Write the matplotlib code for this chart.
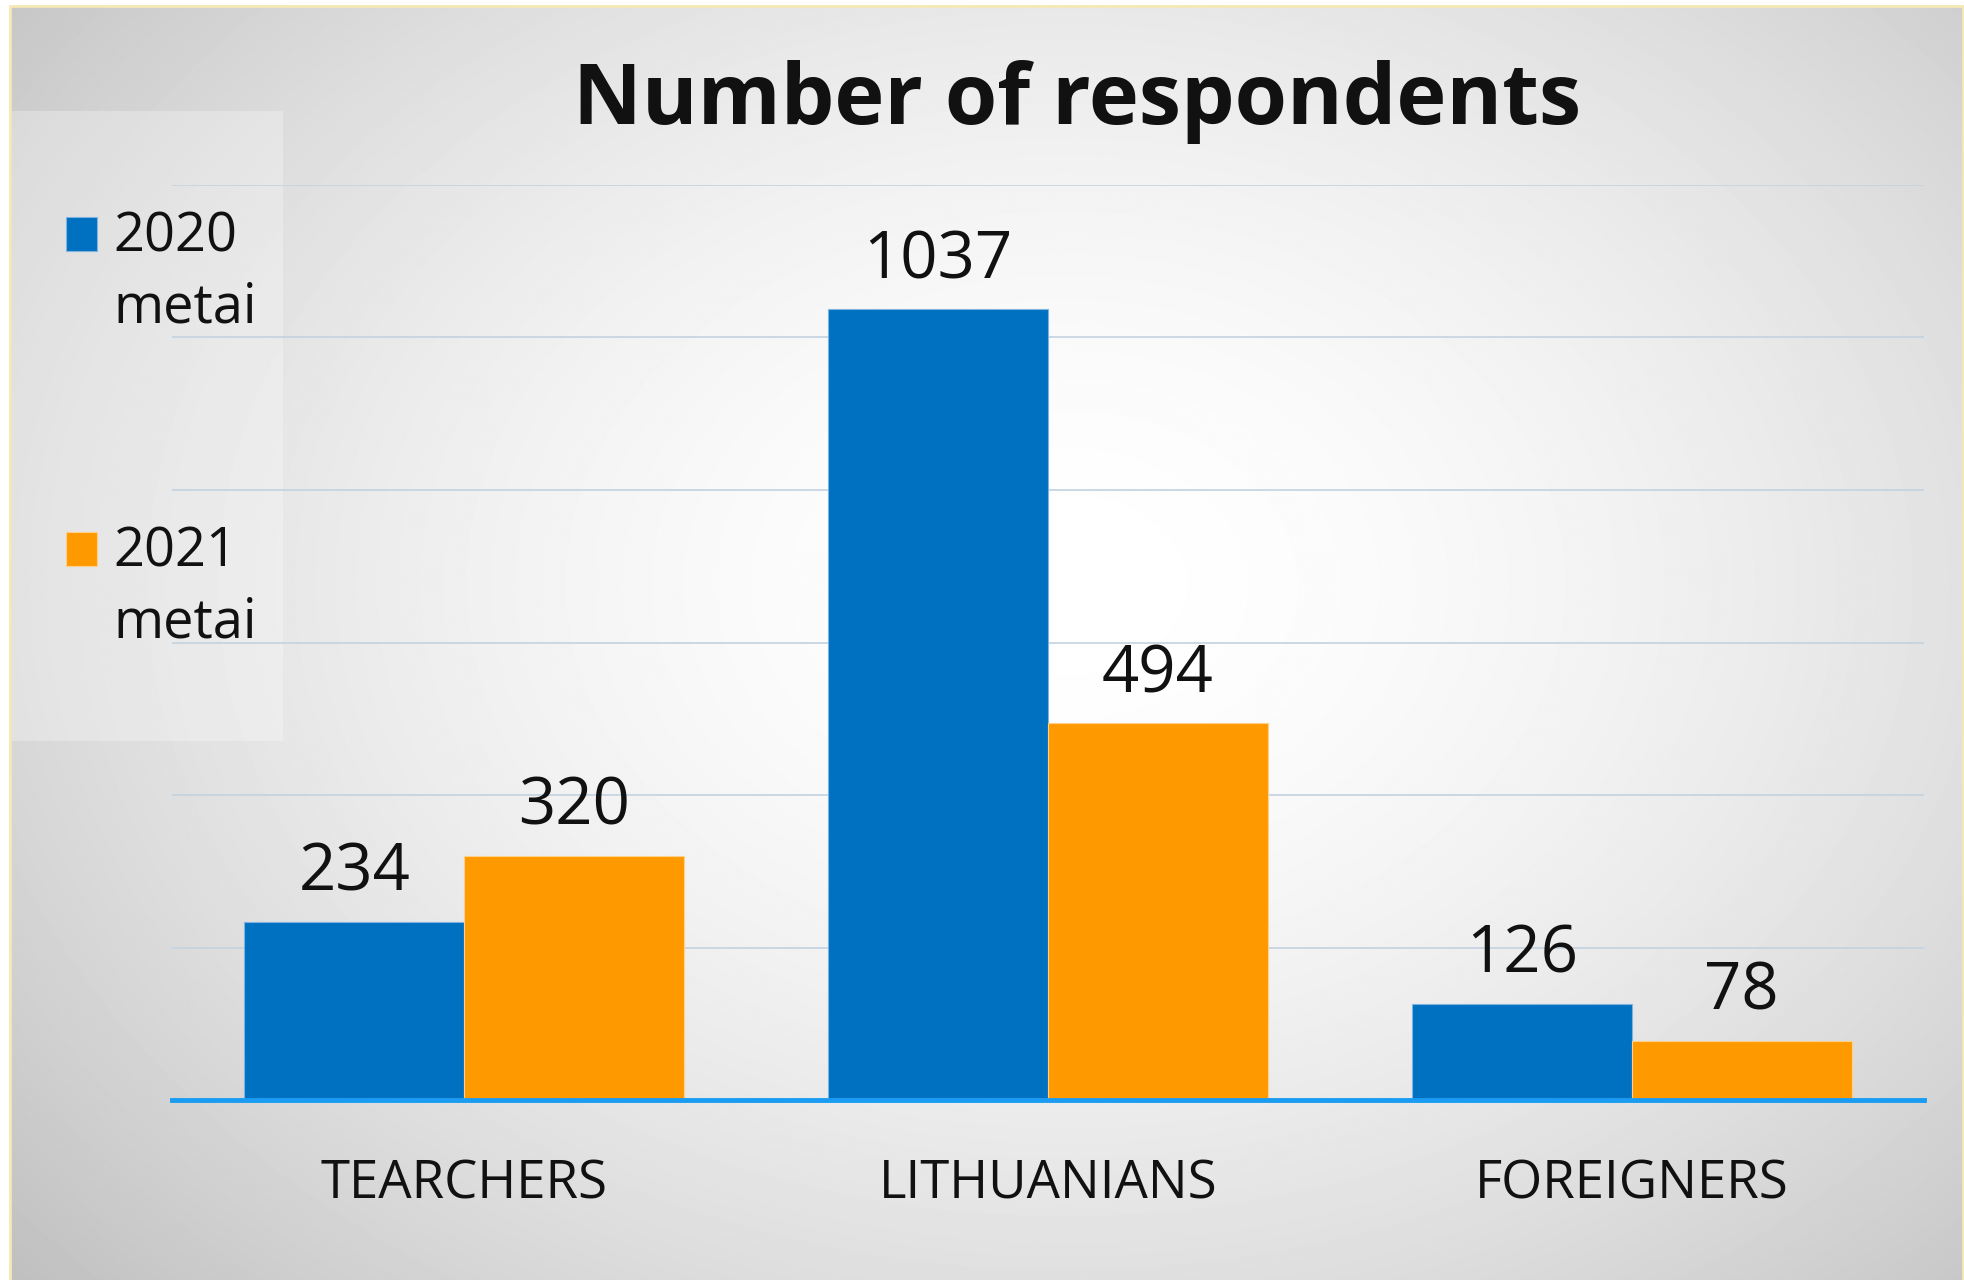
import numpy as np
import matplotlib.pyplot as plt
from matplotlib.patches import Rectangle
from matplotlib.container import BarContainer
from matplotlib.legend_handler import HandlerPatch

# Data
categories = ['TEARCHERS', 'LITHUANIANS', 'FOREIGNERS']
series_names = ['2020\nmetai', '2021\nmetai']
values_2020 = [234, 1037, 126]
values_2021 = [320, 494, 78]
colors = ['#0070c0', '#ff9900']

plt.rcParams['font.family'] = ['Open Sans', 'DejaVu Sans']

W, H = 1964, 1280
fig = plt.figure(figsize=(W / 100, H / 100), dpi=100)
fig.patch.set_facecolor('white')

# Background with radial gradient
bg = fig.add_axes([0, 0, 1, 1], zorder=0)
bg.set_xlim(0, W)
bg.set_ylim(H, 0)
bg.axis('off')
yy, xx = np.mgrid[0:H, 0:W]
cx, cy = 1060, 580
r = np.sqrt(((xx - cx) / 1100.0) ** 2 + ((yy - cy) / 820.0) ** 2)
r = np.clip(r / r.max(), 0, 1)
shade = 1 - 0.25 * r ** 1.7
bg.imshow(shade, cmap='gray', vmin=0, vmax=1, extent=[11, W, H, 7],
          interpolation='bilinear', aspect='auto')
bg.add_patch(Rectangle((10, 6), W - 11, H - 5, fill=False,
                       edgecolor='#f4e8b4', linewidth=2))
# translucent legend panel
bg.add_patch(Rectangle((12, 111), 271, 630, facecolor='white', alpha=0.28,
                       edgecolor='none'))

# Main axes
ax = fig.add_axes([172 / W, 1 - 1100 / H, (1924 - 172) / W, (1100 - 185) / H],
                  zorder=1)
ax.patch.set_alpha(0)
x = np.arange(len(categories))
w = 0.376
b1 = ax.bar(x - w / 2, values_2020, w, color=colors[0], edgecolor='#7fb3e0',
            linewidth=0.8, label=series_names[0], zorder=3)
b2 = ax.bar(x + w / 2, values_2021, w, color=colors[1], edgecolor='#ffd08a',
            linewidth=0.8, label=series_names[1], zorder=3)

for bars in (b1, b2):
    for rect in bars:
        ax.annotate(f'{int(rect.get_height())}',
                    (rect.get_x() + rect.get_width() / 2, rect.get_height()),
                    xytext=(0, 11), textcoords='offset points',
                    ha='center', va='bottom', fontsize=47, color='#111111')

ax.set_xlim(-0.5, 2.5)
ax.set_ylim(0, 1200)
ax.set_yticks(np.arange(200, 1201, 200))
ax.yaxis.grid(True, color='#c3d2e0', linewidth=1.2, zorder=0)
ax.tick_params(axis='y', left=False, labelleft=False)
ax.set_xticks(x)
ax.set_xticklabels(categories, fontsize=38, color='#111111')
ax.tick_params(axis='x', length=0, pad=42)
for s in ['top', 'right', 'left']:
    ax.spines[s].set_visible(False)
ax.spines['bottom'].set_color('#1a9cf2')
ax.spines['bottom'].set_linewidth(3.5)
ax.spines['bottom'].set_zorder(4)

fig.text(1077 / W, 1 - 102 / H, 'Number of respondents', ha='center',
         va='center', fontsize=61, fontweight='bold', color='#111111')


# legend square aligned to the first line of the two-line label
def top_square(legend, orig_handle, xdescent, ydescent, width, height, fontsize):
    return Rectangle((-xdescent, -ydescent + 0.75 * fontsize), width, height)


def from_first_bar(handle, orig):
    handle.update_from(orig.patches[0])


leg = fig.legend(handles=[b1, b2], loc='upper left',
                 bbox_to_anchor=(17 / W, 1 - 161 / H), frameon=False,
                 fontsize=39, handlelength=0.58, handleheight=0.58,
                 handletextpad=0.3, labelspacing=3.5, labelcolor='#111111',
                 handler_map={BarContainer: HandlerPatch(
                     patch_func=top_square, update_func=from_first_bar)})
for t in leg.get_texts():
    t.set_linespacing(1.37)

fig.savefig('out.png', dpi=100)
